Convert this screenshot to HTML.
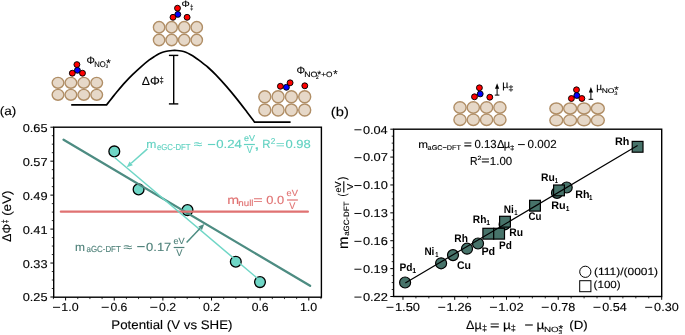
<!DOCTYPE html>
<html><head><meta charset="utf-8"><style>
html,body{margin:0;padding:0;background:#fff;}
svg{display:block;will-change:transform;}
text{font-family:"Liberation Sans", sans-serif;text-rendering:geometricPrecision;}
</style></head><body>
<svg width="685" height="335" viewBox="0 0 685 335">
<rect width="685" height="335" fill="#fff"/>
<ellipse cx="58.00" cy="82.80" rx="5.85" ry="5.40" fill="#e6d8c8" stroke="#b08e66" stroke-width="1.4"/>
<ellipse cx="70.90" cy="82.80" rx="5.85" ry="5.40" fill="#e6d8c8" stroke="#b08e66" stroke-width="1.4"/>
<ellipse cx="83.80" cy="82.80" rx="5.85" ry="5.40" fill="#e6d8c8" stroke="#b08e66" stroke-width="1.4"/>
<ellipse cx="96.70" cy="82.80" rx="5.85" ry="5.40" fill="#e6d8c8" stroke="#b08e66" stroke-width="1.4"/>
<ellipse cx="58.00" cy="94.80" rx="5.85" ry="5.40" fill="#e6d8c8" stroke="#b08e66" stroke-width="1.4"/>
<ellipse cx="70.90" cy="94.80" rx="5.85" ry="5.40" fill="#e6d8c8" stroke="#b08e66" stroke-width="1.4"/>
<ellipse cx="83.80" cy="94.80" rx="5.85" ry="5.40" fill="#e6d8c8" stroke="#b08e66" stroke-width="1.4"/>
<ellipse cx="96.70" cy="94.80" rx="5.85" ry="5.40" fill="#e6d8c8" stroke="#b08e66" stroke-width="1.4"/>
<circle cx="76.90" cy="64.60" r="2.95" fill="#ff0000" stroke="#000" stroke-width="0.95"/>
<circle cx="77.40" cy="70.30" r="2.95" fill="#0000ff" stroke="#000" stroke-width="0.95"/>
<circle cx="72.30" cy="73.20" r="2.95" fill="#ff0000" stroke="#000" stroke-width="0.95"/>
<circle cx="82.50" cy="73.20" r="2.95" fill="#ff0000" stroke="#000" stroke-width="0.95"/>
<ellipse cx="159.10" cy="27.30" rx="5.70" ry="5.75" fill="#e6d8c8" stroke="#b08e66" stroke-width="1.4"/>
<ellipse cx="171.65" cy="27.30" rx="5.70" ry="5.75" fill="#e6d8c8" stroke="#b08e66" stroke-width="1.4"/>
<ellipse cx="184.20" cy="27.30" rx="5.70" ry="5.75" fill="#e6d8c8" stroke="#b08e66" stroke-width="1.4"/>
<ellipse cx="196.75" cy="27.30" rx="5.70" ry="5.75" fill="#e6d8c8" stroke="#b08e66" stroke-width="1.4"/>
<ellipse cx="159.10" cy="40.00" rx="5.70" ry="5.75" fill="#e6d8c8" stroke="#b08e66" stroke-width="1.4"/>
<ellipse cx="171.65" cy="40.00" rx="5.70" ry="5.75" fill="#e6d8c8" stroke="#b08e66" stroke-width="1.4"/>
<ellipse cx="184.20" cy="40.00" rx="5.70" ry="5.75" fill="#e6d8c8" stroke="#b08e66" stroke-width="1.4"/>
<ellipse cx="196.75" cy="40.00" rx="5.70" ry="5.75" fill="#e6d8c8" stroke="#b08e66" stroke-width="1.4"/>
<circle cx="177.50" cy="8.20" r="2.95" fill="#ff0000" stroke="#000" stroke-width="0.95"/>
<circle cx="177.80" cy="14.40" r="2.95" fill="#0000ff" stroke="#000" stroke-width="0.95"/>
<circle cx="173.00" cy="17.30" r="2.95" fill="#ff0000" stroke="#000" stroke-width="0.95"/>
<circle cx="187.10" cy="17.30" r="2.95" fill="#ff0000" stroke="#000" stroke-width="0.95"/>
<ellipse cx="264.80" cy="96.70" rx="6.00" ry="6.00" fill="#e6d8c8" stroke="#b08e66" stroke-width="1.4"/>
<ellipse cx="278.10" cy="96.70" rx="6.00" ry="6.00" fill="#e6d8c8" stroke="#b08e66" stroke-width="1.4"/>
<ellipse cx="291.40" cy="96.70" rx="6.00" ry="6.00" fill="#e6d8c8" stroke="#b08e66" stroke-width="1.4"/>
<ellipse cx="304.70" cy="96.70" rx="6.00" ry="6.00" fill="#e6d8c8" stroke="#b08e66" stroke-width="1.4"/>
<ellipse cx="264.80" cy="110.00" rx="6.00" ry="6.00" fill="#e6d8c8" stroke="#b08e66" stroke-width="1.4"/>
<ellipse cx="278.10" cy="110.00" rx="6.00" ry="6.00" fill="#e6d8c8" stroke="#b08e66" stroke-width="1.4"/>
<ellipse cx="291.40" cy="110.00" rx="6.00" ry="6.00" fill="#e6d8c8" stroke="#b08e66" stroke-width="1.4"/>
<ellipse cx="304.70" cy="110.00" rx="6.00" ry="6.00" fill="#e6d8c8" stroke="#b08e66" stroke-width="1.4"/>
<circle cx="286.40" cy="87.30" r="2.95" fill="#0000ff" stroke="#000" stroke-width="0.95"/>
<circle cx="280.40" cy="86.30" r="2.95" fill="#ff0000" stroke="#000" stroke-width="0.95"/>
<circle cx="290.10" cy="82.80" r="2.95" fill="#ff0000" stroke="#000" stroke-width="0.95"/>
<circle cx="304.80" cy="85.80" r="2.95" fill="#ff0000" stroke="#000" stroke-width="0.95"/>
<path d="M71.2,104.8 L106.6,104.8 C107.55,103.60 110.67,99.65 112.3,97.6 C113.93,95.55 114.35,94.95 116.4,92.5 C118.45,90.05 121.87,85.92 124.6,82.9 C127.33,79.88 130.07,77.08 132.8,74.4 C135.53,71.72 138.25,69.22 141,66.8 C143.75,64.38 146.97,61.68 149.3,59.9 C151.63,58.12 153.38,57.12 155,56.1 C156.62,55.08 157.60,54.48 159,53.8 C160.40,53.12 161.92,52.47 163.4,52 C164.88,51.53 166.40,51.25 167.9,51 C169.40,50.75 170.90,50.58 172.4,50.5 C173.90,50.42 175.42,50.42 176.9,50.5 C178.38,50.58 179.82,50.70 181.3,51 C182.78,51.30 184.30,51.72 185.8,52.3 C187.30,52.88 188.80,53.68 190.3,54.5 C191.80,55.32 193.32,56.22 194.8,57.2 C196.28,58.18 197.72,59.28 199.2,60.4 C200.68,61.52 202.20,62.72 203.7,63.9 C205.20,65.08 206.17,65.67 208.2,67.5 C210.23,69.33 212.87,71.75 215.9,74.9 C218.93,78.05 222.92,82.40 226.4,86.4 C229.88,90.40 233.32,94.55 236.8,98.9 C240.28,103.25 244.33,108.62 247.3,112.5 C250.27,116.38 253.38,120.58 254.6,122.2 L290.6,122.2" fill="none" stroke="#000" stroke-width="1.7" stroke-linejoin="miter"/>
<line x1="173.70" y1="55.40" x2="173.70" y2="103.90" stroke="#000" stroke-width="1.4" stroke-linecap="butt" />
<line x1="168.90" y1="55.40" x2="178.30" y2="55.40" stroke="#000" stroke-width="1.4" stroke-linecap="butt" />
<line x1="168.90" y1="103.90" x2="178.30" y2="103.90" stroke="#000" stroke-width="1.4" stroke-linecap="butt" />
<text x="86.40" y="63.54" font-size="10.74" fill="#000" stroke="#000" stroke-width="0.12" font-weight="normal" textLength="8.40" lengthAdjust="spacingAndGlyphs" >Φ</text>
<text x="94.17" y="66.80" font-size="8.1" fill="#000" stroke="#000" stroke-width="0.12" font-weight="normal" textLength="11.50" lengthAdjust="spacingAndGlyphs" >NO</text>
<text x="106.22" y="67.24" font-size="11.39" fill="#000" stroke="#000" stroke-width="0.12" font-weight="normal" textLength="4.46" lengthAdjust="spacingAndGlyphs" >*</text>
<text x="105.85" y="67.85" font-size="5.08" fill="#000" stroke="#000" stroke-width="0.12" font-weight="normal" textLength="2.23" lengthAdjust="spacingAndGlyphs" >3</text>
<text x="181.51" y="7.45" font-size="9.17" fill="#000" stroke="#000" stroke-width="0.12" font-weight="normal" textLength="8.28" lengthAdjust="spacingAndGlyphs" >Φ</text>
<text x="189.89" y="10.29" font-size="7.44" fill="#000" stroke="#000" stroke-width="0.12" font-weight="normal" textLength="3.42" lengthAdjust="spacingAndGlyphs" >‡</text>
<text x="141.83" y="84.84" font-size="12.03" fill="#000" stroke="#000" stroke-width="0.12" font-weight="normal" textLength="18.07" lengthAdjust="spacingAndGlyphs" >ΔΦ</text>
<text x="159.60" y="82.58" font-size="9.07" fill="#000" stroke="#000" stroke-width="0.12" font-weight="normal" textLength="4.21" lengthAdjust="spacingAndGlyphs" >‡</text>
<text x="296.48" y="73.64" font-size="10.6" fill="#000" stroke="#000" stroke-width="0.12" font-weight="normal" textLength="8.63" lengthAdjust="spacingAndGlyphs" >Φ</text>
<text x="304.18" y="77.30" font-size="7.8" fill="#000" stroke="#000" stroke-width="0.12" font-weight="normal" textLength="13.14" lengthAdjust="spacingAndGlyphs" >NO</text>
<text x="317.14" y="77.65" font-size="10.54" fill="#000" stroke="#000" stroke-width="0.12" font-weight="normal" textLength="3.92" lengthAdjust="spacingAndGlyphs" >*</text>
<text x="315.84" y="78.50" font-size="5.16" fill="#000" stroke="#000" stroke-width="0.12" font-weight="normal" textLength="2.93" lengthAdjust="spacingAndGlyphs" >2</text>
<text x="321.29" y="77.30" font-size="7.8" fill="#000" stroke="#000" stroke-width="0.12" font-weight="normal" textLength="11.30" lengthAdjust="spacingAndGlyphs" >+O</text>
<text x="333.22" y="78.43" font-size="11.68" fill="#000" stroke="#000" stroke-width="0.12" font-weight="normal" textLength="4.36" lengthAdjust="spacingAndGlyphs" >*</text>
<text x="-0.24" y="115.20" font-size="12.2" fill="#000" stroke="#000" stroke-width="0.12" font-weight="normal" textLength="16.58" lengthAdjust="spacingAndGlyphs" >(a)</text>
<text x="330.89" y="115.60" font-size="12.6" fill="#000" stroke="#000" stroke-width="0.12" font-weight="normal" textLength="17.92" lengthAdjust="spacingAndGlyphs" >(b)</text>
<line x1="53.44" y1="297.20" x2="53.44" y2="299.10" stroke="#000" stroke-width="0.8" stroke-linecap="butt" />
<line x1="65.60" y1="297.20" x2="65.60" y2="300.50" stroke="#000" stroke-width="1.0" stroke-linecap="butt" />
<line x1="77.76" y1="297.20" x2="77.76" y2="299.10" stroke="#000" stroke-width="0.8" stroke-linecap="butt" />
<line x1="89.92" y1="297.20" x2="89.92" y2="299.10" stroke="#000" stroke-width="0.8" stroke-linecap="butt" />
<line x1="102.08" y1="297.20" x2="102.08" y2="299.10" stroke="#000" stroke-width="0.8" stroke-linecap="butt" />
<line x1="114.24" y1="297.20" x2="114.24" y2="300.50" stroke="#000" stroke-width="1.0" stroke-linecap="butt" />
<line x1="126.40" y1="297.20" x2="126.40" y2="299.10" stroke="#000" stroke-width="0.8" stroke-linecap="butt" />
<line x1="138.56" y1="297.20" x2="138.56" y2="299.10" stroke="#000" stroke-width="0.8" stroke-linecap="butt" />
<line x1="150.72" y1="297.20" x2="150.72" y2="299.10" stroke="#000" stroke-width="0.8" stroke-linecap="butt" />
<line x1="162.88" y1="297.20" x2="162.88" y2="300.50" stroke="#000" stroke-width="1.0" stroke-linecap="butt" />
<line x1="175.04" y1="297.20" x2="175.04" y2="299.10" stroke="#000" stroke-width="0.8" stroke-linecap="butt" />
<line x1="187.20" y1="297.20" x2="187.20" y2="299.10" stroke="#000" stroke-width="0.8" stroke-linecap="butt" />
<line x1="199.36" y1="297.20" x2="199.36" y2="299.10" stroke="#000" stroke-width="0.8" stroke-linecap="butt" />
<line x1="211.52" y1="297.20" x2="211.52" y2="300.50" stroke="#000" stroke-width="1.0" stroke-linecap="butt" />
<line x1="223.68" y1="297.20" x2="223.68" y2="299.10" stroke="#000" stroke-width="0.8" stroke-linecap="butt" />
<line x1="235.84" y1="297.20" x2="235.84" y2="299.10" stroke="#000" stroke-width="0.8" stroke-linecap="butt" />
<line x1="248.00" y1="297.20" x2="248.00" y2="299.10" stroke="#000" stroke-width="0.8" stroke-linecap="butt" />
<line x1="260.16" y1="297.20" x2="260.16" y2="300.50" stroke="#000" stroke-width="1.0" stroke-linecap="butt" />
<line x1="272.32" y1="297.20" x2="272.32" y2="299.10" stroke="#000" stroke-width="0.8" stroke-linecap="butt" />
<line x1="284.48" y1="297.20" x2="284.48" y2="299.10" stroke="#000" stroke-width="0.8" stroke-linecap="butt" />
<line x1="296.64" y1="297.20" x2="296.64" y2="299.10" stroke="#000" stroke-width="0.8" stroke-linecap="butt" />
<line x1="308.80" y1="297.20" x2="308.80" y2="300.50" stroke="#000" stroke-width="1.0" stroke-linecap="butt" />
<line x1="320.96" y1="297.20" x2="320.96" y2="299.10" stroke="#000" stroke-width="0.8" stroke-linecap="butt" />
<line x1="50.40" y1="127.20" x2="53.70" y2="127.20" stroke="#000" stroke-width="1.0" stroke-linecap="butt" />
<line x1="51.80" y1="135.69" x2="53.70" y2="135.69" stroke="#000" stroke-width="0.8" stroke-linecap="butt" />
<line x1="51.80" y1="144.18" x2="53.70" y2="144.18" stroke="#000" stroke-width="0.8" stroke-linecap="butt" />
<line x1="51.80" y1="152.67" x2="53.70" y2="152.67" stroke="#000" stroke-width="0.8" stroke-linecap="butt" />
<line x1="50.40" y1="161.16" x2="53.70" y2="161.16" stroke="#000" stroke-width="1.0" stroke-linecap="butt" />
<line x1="51.80" y1="169.65" x2="53.70" y2="169.65" stroke="#000" stroke-width="0.8" stroke-linecap="butt" />
<line x1="51.80" y1="178.14" x2="53.70" y2="178.14" stroke="#000" stroke-width="0.8" stroke-linecap="butt" />
<line x1="51.80" y1="186.63" x2="53.70" y2="186.63" stroke="#000" stroke-width="0.8" stroke-linecap="butt" />
<line x1="50.40" y1="195.12" x2="53.70" y2="195.12" stroke="#000" stroke-width="1.0" stroke-linecap="butt" />
<line x1="51.80" y1="203.61" x2="53.70" y2="203.61" stroke="#000" stroke-width="0.8" stroke-linecap="butt" />
<line x1="51.80" y1="212.10" x2="53.70" y2="212.10" stroke="#000" stroke-width="0.8" stroke-linecap="butt" />
<line x1="51.80" y1="220.59" x2="53.70" y2="220.59" stroke="#000" stroke-width="0.8" stroke-linecap="butt" />
<line x1="50.40" y1="229.08" x2="53.70" y2="229.08" stroke="#000" stroke-width="1.0" stroke-linecap="butt" />
<line x1="51.80" y1="237.57" x2="53.70" y2="237.57" stroke="#000" stroke-width="0.8" stroke-linecap="butt" />
<line x1="51.80" y1="246.06" x2="53.70" y2="246.06" stroke="#000" stroke-width="0.8" stroke-linecap="butt" />
<line x1="51.80" y1="254.55" x2="53.70" y2="254.55" stroke="#000" stroke-width="0.8" stroke-linecap="butt" />
<line x1="50.40" y1="263.04" x2="53.70" y2="263.04" stroke="#000" stroke-width="1.0" stroke-linecap="butt" />
<line x1="51.80" y1="271.53" x2="53.70" y2="271.53" stroke="#000" stroke-width="0.8" stroke-linecap="butt" />
<line x1="51.80" y1="280.02" x2="53.70" y2="280.02" stroke="#000" stroke-width="0.8" stroke-linecap="butt" />
<line x1="51.80" y1="288.51" x2="53.70" y2="288.51" stroke="#000" stroke-width="0.8" stroke-linecap="butt" />
<line x1="50.40" y1="297.00" x2="53.70" y2="297.00" stroke="#000" stroke-width="1.0" stroke-linecap="butt" />
<rect x="53.7" y="127.2" width="267.7" height="170.0" fill="none" stroke="#000" stroke-width="1.4"/>
<rect x="53.00" y="306.82" width="7.10" height="0.95" fill="#000"/>
<text x="61.35" y="310.99" font-size="11.58" fill="#000" stroke="#000" stroke-width="0.12" font-weight="normal" textLength="17.34" lengthAdjust="spacingAndGlyphs" >1.0</text>
<rect x="101.64" y="306.82" width="7.10" height="0.95" fill="#000"/>
<text x="110.46" y="310.99" font-size="11.58" fill="#000" stroke="#000" stroke-width="0.12" font-weight="normal" textLength="16.91" lengthAdjust="spacingAndGlyphs" >0.6</text>
<rect x="150.28" y="306.82" width="7.10" height="0.95" fill="#000"/>
<text x="159.10" y="310.99" font-size="11.58" fill="#000" stroke="#000" stroke-width="0.12" font-weight="normal" textLength="16.99" lengthAdjust="spacingAndGlyphs" >0.2</text>
<text x="203.09" y="310.99" font-size="11.58" fill="#000" stroke="#000" stroke-width="0.12" font-weight="normal" textLength="16.99" lengthAdjust="spacingAndGlyphs" >0.2</text>
<text x="251.73" y="310.99" font-size="11.58" fill="#000" stroke="#000" stroke-width="0.12" font-weight="normal" textLength="16.91" lengthAdjust="spacingAndGlyphs" >0.6</text>
<text x="299.90" y="310.99" font-size="11.58" fill="#000" stroke="#000" stroke-width="0.12" font-weight="normal" textLength="17.34" lengthAdjust="spacingAndGlyphs" >1.0</text>
<text x="22.70" y="131.69" font-size="11.44" fill="#000" stroke="#000" stroke-width="0.12" font-weight="normal" textLength="24.83" lengthAdjust="spacingAndGlyphs" >0.65</text>
<text x="22.70" y="165.65" font-size="11.44" fill="#000" stroke="#000" stroke-width="0.12" font-weight="normal" textLength="24.95" lengthAdjust="spacingAndGlyphs" >0.57</text>
<text x="22.70" y="199.61" font-size="11.44" fill="#000" stroke="#000" stroke-width="0.12" font-weight="normal" textLength="24.91" lengthAdjust="spacingAndGlyphs" >0.49</text>
<text x="22.70" y="233.57" font-size="11.44" fill="#000" stroke="#000" stroke-width="0.12" font-weight="normal" textLength="24.93" lengthAdjust="spacingAndGlyphs" >0.41</text>
<text x="22.70" y="267.53" font-size="11.44" fill="#000" stroke="#000" stroke-width="0.12" font-weight="normal" textLength="24.86" lengthAdjust="spacingAndGlyphs" >0.33</text>
<text x="22.70" y="301.49" font-size="11.44" fill="#000" stroke="#000" stroke-width="0.12" font-weight="normal" textLength="24.83" lengthAdjust="spacingAndGlyphs" >0.25</text>
<text x="111.31" y="328.70" font-size="12.5" fill="#000" stroke="#000" stroke-width="0.12" font-weight="normal" textLength="121.22" lengthAdjust="spacingAndGlyphs" >Potential (V vs SHE)</text>
<g transform="translate(11.0,241.3) rotate(-90)"><text x="-0.36" y="0.00" font-size="12.6" fill="#000" stroke="#000" stroke-width="0.12" font-weight="normal" textLength="17.64" lengthAdjust="spacingAndGlyphs" >ΔΦ</text><text x="17.91" y="-3.40" font-size="9.0" fill="#000" stroke="#000" stroke-width="0.12" font-weight="normal" textLength="4.08" lengthAdjust="spacingAndGlyphs" >‡</text><text x="25.47" y="-0.30" font-size="12.4" fill="#000" stroke="#000" stroke-width="0.12" font-weight="normal" textLength="25.26" lengthAdjust="spacingAndGlyphs" >(eV)</text></g>
<circle cx="114.30" cy="151.40" r="5.40" fill="#6fd6c6" stroke="#000" stroke-width="1.3"/>
<circle cx="138.60" cy="189.40" r="5.40" fill="#6fd6c6" stroke="#000" stroke-width="1.3"/>
<circle cx="187.50" cy="210.10" r="5.40" fill="#6fd6c6" stroke="#000" stroke-width="1.3"/>
<circle cx="235.80" cy="261.70" r="5.40" fill="#6fd6c6" stroke="#000" stroke-width="1.3"/>
<circle cx="260.00" cy="282.10" r="5.40" fill="#6fd6c6" stroke="#000" stroke-width="1.3"/>
<line x1="63.60" y1="139.70" x2="310.10" y2="285.80" stroke="#4d8c82" stroke-width="2.3" stroke-linecap="round" />
<line x1="60.80" y1="211.70" x2="307.90" y2="211.70" stroke="#e07272" stroke-width="2.2" stroke-linecap="round" />
<line x1="114.30" y1="157.30" x2="260.00" y2="280.50" stroke="#6fd6c6" stroke-width="1.5" stroke-linecap="butt" />
<line x1="147.40" y1="148.90" x2="131.18" y2="163.31" stroke="#6fd6c6" stroke-width="1.5" stroke-linecap="butt" />
<polygon points="126.70,167.30 129.52,161.45 132.85,165.18" fill="#6fd6c6"/>
<line x1="186.60" y1="242.40" x2="200.15" y2="228.24" stroke="#4d8c82" stroke-width="1.5" stroke-linecap="butt" />
<polygon points="204.30,223.90 201.96,229.96 198.35,226.51" fill="#4d8c82"/>
<text x="146.29" y="148.10" font-size="11.3" fill="#62d2c2" stroke="#62d2c2" stroke-width="0.12" font-weight="normal" textLength="10.11" lengthAdjust="spacingAndGlyphs" >m</text>
<text x="156.97" y="149.60" font-size="8.7" fill="#62d2c2" stroke="#62d2c2" stroke-width="0.12" font-weight="normal" textLength="33.61" lengthAdjust="spacingAndGlyphs" >eGC-DFT</text>
<text x="193.88" y="148.49" font-size="11.51" fill="#62d2c2" stroke="#62d2c2" stroke-width="0.12" font-weight="normal" textLength="8.44" lengthAdjust="spacingAndGlyphs" >≈</text>
<rect x="207.90" y="143.93" width="7.30" height="1.15" fill="#62d2c2"/>
<text x="216.28" y="148.30" font-size="11.8" fill="#62d2c2" stroke="#62d2c2" stroke-width="0.12" font-weight="normal" textLength="25.70" lengthAdjust="spacingAndGlyphs" >0.24</text>
<text x="243.92" y="141.22" font-size="8.6" fill="#62d2c2" stroke="#62d2c2" stroke-width="0.12" font-weight="normal" textLength="11.02" lengthAdjust="spacingAndGlyphs" >eV</text>
<line x1="243.90" y1="144.50" x2="254.90" y2="144.50" stroke="#62d2c2" stroke-width="1.2" stroke-linecap="butt" />
<text x="246.76" y="153.40" font-size="10.17" fill="#62d2c2" stroke="#62d2c2" stroke-width="0.12" font-weight="normal" textLength="5.88" lengthAdjust="spacingAndGlyphs" >V</text>
<text x="254.07" y="148.61" font-size="13.2" fill="#62d2c2" stroke="#62d2c2" stroke-width="0.12" font-weight="normal" textLength="5.66" lengthAdjust="spacingAndGlyphs" >,</text>
<text x="262.36" y="147.70" font-size="11.8" fill="#62d2c2" stroke="#62d2c2" stroke-width="0.12" font-weight="normal" textLength="8.27" lengthAdjust="spacingAndGlyphs" >R</text>
<text x="270.68" y="144.20" font-size="8.45" fill="#62d2c2" stroke="#62d2c2" stroke-width="0.12" font-weight="normal" textLength="4.64" lengthAdjust="spacingAndGlyphs" >2</text>
<text x="276.08" y="147.72" font-size="10.24" fill="#62d2c2" stroke="#62d2c2" stroke-width="0.12" font-weight="normal" textLength="8.65" lengthAdjust="spacingAndGlyphs" >=</text>
<text x="285.49" y="147.80" font-size="11.8" fill="#62d2c2" stroke="#62d2c2" stroke-width="0.12" font-weight="normal" textLength="25.27" lengthAdjust="spacingAndGlyphs" >0.98</text>
<text x="75.10" y="250.80" font-size="11.6" fill="#4e8079" stroke="#4e8079" stroke-width="0.12" font-weight="normal" textLength="9.99" lengthAdjust="spacingAndGlyphs" >m</text>
<text x="86.56" y="252.40" font-size="8.8" fill="#4e8079" stroke="#4e8079" stroke-width="0.12" font-weight="normal" textLength="34.22" lengthAdjust="spacingAndGlyphs" >aGC-DFT</text>
<text x="123.57" y="250.89" font-size="11.51" fill="#4e8079" stroke="#4e8079" stroke-width="0.12" font-weight="normal" textLength="8.66" lengthAdjust="spacingAndGlyphs" >≈</text>
<rect x="137.20" y="246.03" width="7.50" height="1.15" fill="#4e8079"/>
<text x="146.09" y="250.80" font-size="11.8" fill="#4e8079" stroke="#4e8079" stroke-width="0.12" font-weight="normal" textLength="25.26" lengthAdjust="spacingAndGlyphs" >0.17</text>
<text x="173.51" y="243.61" font-size="8.89" fill="#4e8079" stroke="#4e8079" stroke-width="0.12" font-weight="normal" textLength="11.13" lengthAdjust="spacingAndGlyphs" >eV</text>
<line x1="173.70" y1="247.50" x2="184.40" y2="247.50" stroke="#4e8079" stroke-width="1.2" stroke-linecap="butt" />
<text x="176.16" y="256.20" font-size="9.59" fill="#4e8079" stroke="#4e8079" stroke-width="0.12" font-weight="normal" textLength="6.18" lengthAdjust="spacingAndGlyphs" >V</text>
<text x="227.15" y="203.80" font-size="11.9" fill="#e07272" stroke="#e07272" stroke-width="0.12" font-weight="normal" textLength="11.89" lengthAdjust="spacingAndGlyphs" >m</text>
<text x="238.35" y="205.60" font-size="9.0" fill="#e07272" stroke="#e07272" stroke-width="0.12" font-weight="normal" textLength="15.20" lengthAdjust="spacingAndGlyphs" >null</text>
<text x="253.31" y="203.78" font-size="11.79" fill="#e07272" stroke="#e07272" stroke-width="0.12" font-weight="normal" textLength="9.50" lengthAdjust="spacingAndGlyphs" >=</text>
<text x="266.20" y="203.70" font-size="11.8" fill="#e07272" stroke="#e07272" stroke-width="0.12" font-weight="normal" textLength="17.91" lengthAdjust="spacingAndGlyphs" >0.0</text>
<text x="286.61" y="196.41" font-size="8.89" fill="#e07272" stroke="#e07272" stroke-width="0.12" font-weight="normal" textLength="11.33" lengthAdjust="spacingAndGlyphs" >eV</text>
<line x1="287.00" y1="200.00" x2="297.90" y2="200.00" stroke="#e07272" stroke-width="1.2" stroke-linecap="butt" />
<text x="289.16" y="208.90" font-size="9.59" fill="#e07272" stroke="#e07272" stroke-width="0.12" font-weight="normal" textLength="6.08" lengthAdjust="spacingAndGlyphs" >V</text>
<line x1="402.98" y1="296.50" x2="402.98" y2="299.80" stroke="#000" stroke-width="1.0" stroke-linecap="butt" />
<line x1="415.92" y1="296.50" x2="415.92" y2="298.40" stroke="#000" stroke-width="0.8" stroke-linecap="butt" />
<line x1="428.85" y1="296.50" x2="428.85" y2="298.40" stroke="#000" stroke-width="0.8" stroke-linecap="butt" />
<line x1="441.79" y1="296.50" x2="441.79" y2="298.40" stroke="#000" stroke-width="0.8" stroke-linecap="butt" />
<line x1="454.72" y1="296.50" x2="454.72" y2="299.80" stroke="#000" stroke-width="1.0" stroke-linecap="butt" />
<line x1="467.66" y1="296.50" x2="467.66" y2="298.40" stroke="#000" stroke-width="0.8" stroke-linecap="butt" />
<line x1="480.60" y1="296.50" x2="480.60" y2="298.40" stroke="#000" stroke-width="0.8" stroke-linecap="butt" />
<line x1="493.53" y1="296.50" x2="493.53" y2="298.40" stroke="#000" stroke-width="0.8" stroke-linecap="butt" />
<line x1="506.47" y1="296.50" x2="506.47" y2="299.80" stroke="#000" stroke-width="1.0" stroke-linecap="butt" />
<line x1="519.40" y1="296.50" x2="519.40" y2="298.40" stroke="#000" stroke-width="0.8" stroke-linecap="butt" />
<line x1="532.34" y1="296.50" x2="532.34" y2="298.40" stroke="#000" stroke-width="0.8" stroke-linecap="butt" />
<line x1="545.28" y1="296.50" x2="545.28" y2="298.40" stroke="#000" stroke-width="0.8" stroke-linecap="butt" />
<line x1="558.21" y1="296.50" x2="558.21" y2="299.80" stroke="#000" stroke-width="1.0" stroke-linecap="butt" />
<line x1="571.15" y1="296.50" x2="571.15" y2="298.40" stroke="#000" stroke-width="0.8" stroke-linecap="butt" />
<line x1="584.08" y1="296.50" x2="584.08" y2="298.40" stroke="#000" stroke-width="0.8" stroke-linecap="butt" />
<line x1="597.02" y1="296.50" x2="597.02" y2="298.40" stroke="#000" stroke-width="0.8" stroke-linecap="butt" />
<line x1="609.96" y1="296.50" x2="609.96" y2="299.80" stroke="#000" stroke-width="1.0" stroke-linecap="butt" />
<line x1="622.89" y1="296.50" x2="622.89" y2="298.40" stroke="#000" stroke-width="0.8" stroke-linecap="butt" />
<line x1="635.83" y1="296.50" x2="635.83" y2="298.40" stroke="#000" stroke-width="0.8" stroke-linecap="butt" />
<line x1="648.76" y1="296.50" x2="648.76" y2="298.40" stroke="#000" stroke-width="0.8" stroke-linecap="butt" />
<line x1="661.70" y1="296.50" x2="661.70" y2="299.80" stroke="#000" stroke-width="1.0" stroke-linecap="butt" />
<line x1="390.30" y1="129.20" x2="393.60" y2="129.20" stroke="#000" stroke-width="1.0" stroke-linecap="butt" />
<line x1="391.70" y1="136.17" x2="393.60" y2="136.17" stroke="#000" stroke-width="0.8" stroke-linecap="butt" />
<line x1="391.70" y1="143.14" x2="393.60" y2="143.14" stroke="#000" stroke-width="0.8" stroke-linecap="butt" />
<line x1="391.70" y1="150.11" x2="393.60" y2="150.11" stroke="#000" stroke-width="0.8" stroke-linecap="butt" />
<line x1="390.30" y1="157.08" x2="393.60" y2="157.08" stroke="#000" stroke-width="1.0" stroke-linecap="butt" />
<line x1="391.70" y1="164.05" x2="393.60" y2="164.05" stroke="#000" stroke-width="0.8" stroke-linecap="butt" />
<line x1="391.70" y1="171.02" x2="393.60" y2="171.02" stroke="#000" stroke-width="0.8" stroke-linecap="butt" />
<line x1="391.70" y1="177.99" x2="393.60" y2="177.99" stroke="#000" stroke-width="0.8" stroke-linecap="butt" />
<line x1="390.30" y1="184.96" x2="393.60" y2="184.96" stroke="#000" stroke-width="1.0" stroke-linecap="butt" />
<line x1="391.70" y1="191.93" x2="393.60" y2="191.93" stroke="#000" stroke-width="0.8" stroke-linecap="butt" />
<line x1="391.70" y1="198.90" x2="393.60" y2="198.90" stroke="#000" stroke-width="0.8" stroke-linecap="butt" />
<line x1="391.70" y1="205.88" x2="393.60" y2="205.88" stroke="#000" stroke-width="0.8" stroke-linecap="butt" />
<line x1="390.30" y1="212.85" x2="393.60" y2="212.85" stroke="#000" stroke-width="1.0" stroke-linecap="butt" />
<line x1="391.70" y1="219.82" x2="393.60" y2="219.82" stroke="#000" stroke-width="0.8" stroke-linecap="butt" />
<line x1="391.70" y1="226.79" x2="393.60" y2="226.79" stroke="#000" stroke-width="0.8" stroke-linecap="butt" />
<line x1="391.70" y1="233.76" x2="393.60" y2="233.76" stroke="#000" stroke-width="0.8" stroke-linecap="butt" />
<line x1="390.30" y1="240.73" x2="393.60" y2="240.73" stroke="#000" stroke-width="1.0" stroke-linecap="butt" />
<line x1="391.70" y1="247.70" x2="393.60" y2="247.70" stroke="#000" stroke-width="0.8" stroke-linecap="butt" />
<line x1="391.70" y1="254.67" x2="393.60" y2="254.67" stroke="#000" stroke-width="0.8" stroke-linecap="butt" />
<line x1="391.70" y1="261.64" x2="393.60" y2="261.64" stroke="#000" stroke-width="0.8" stroke-linecap="butt" />
<line x1="390.30" y1="268.61" x2="393.60" y2="268.61" stroke="#000" stroke-width="1.0" stroke-linecap="butt" />
<line x1="391.70" y1="275.58" x2="393.60" y2="275.58" stroke="#000" stroke-width="0.8" stroke-linecap="butt" />
<line x1="391.70" y1="282.55" x2="393.60" y2="282.55" stroke="#000" stroke-width="0.8" stroke-linecap="butt" />
<line x1="391.70" y1="289.52" x2="393.60" y2="289.52" stroke="#000" stroke-width="0.8" stroke-linecap="butt" />
<line x1="390.30" y1="296.49" x2="393.60" y2="296.49" stroke="#000" stroke-width="1.0" stroke-linecap="butt" />
<rect x="393.6" y="129.2" width="268.1" height="167.3" fill="none" stroke="#000" stroke-width="1.4"/>
<rect x="386.48" y="306.82" width="7.00" height="0.95" fill="#000"/>
<text x="394.90" y="310.99" font-size="11.58" fill="#000" stroke="#000" stroke-width="0.12" font-weight="normal" textLength="25.09" lengthAdjust="spacingAndGlyphs" >1.50</text>
<rect x="438.22" y="306.82" width="7.00" height="0.95" fill="#000"/>
<text x="446.64" y="310.99" font-size="11.58" fill="#000" stroke="#000" stroke-width="0.12" font-weight="normal" textLength="25.15" lengthAdjust="spacingAndGlyphs" >1.26</text>
<rect x="489.97" y="306.82" width="7.00" height="0.95" fill="#000"/>
<text x="498.38" y="310.99" font-size="11.58" fill="#000" stroke="#000" stroke-width="0.12" font-weight="normal" textLength="25.24" lengthAdjust="spacingAndGlyphs" >1.02</text>
<rect x="541.71" y="306.82" width="7.00" height="0.95" fill="#000"/>
<text x="550.62" y="310.99" font-size="11.58" fill="#000" stroke="#000" stroke-width="0.12" font-weight="normal" textLength="24.64" lengthAdjust="spacingAndGlyphs" >0.78</text>
<rect x="593.46" y="306.82" width="7.00" height="0.95" fill="#000"/>
<text x="602.37" y="310.99" font-size="11.58" fill="#000" stroke="#000" stroke-width="0.12" font-weight="normal" textLength="24.46" lengthAdjust="spacingAndGlyphs" >0.54</text>
<rect x="645.20" y="306.82" width="7.00" height="0.95" fill="#000"/>
<text x="654.11" y="310.99" font-size="11.58" fill="#000" stroke="#000" stroke-width="0.12" font-weight="normal" textLength="24.59" lengthAdjust="spacingAndGlyphs" >0.30</text>
<rect x="354.40" y="129.32" width="7.10" height="0.95" fill="#000"/>
<text x="362.90" y="133.59" font-size="11.44" fill="#000" stroke="#000" stroke-width="0.12" font-weight="normal" textLength="24.77" lengthAdjust="spacingAndGlyphs" >0.04</text>
<rect x="354.40" y="157.21" width="7.10" height="0.95" fill="#000"/>
<text x="362.90" y="161.47" font-size="11.44" fill="#000" stroke="#000" stroke-width="0.12" font-weight="normal" textLength="25.05" lengthAdjust="spacingAndGlyphs" >0.07</text>
<rect x="354.40" y="185.09" width="7.10" height="0.95" fill="#000"/>
<text x="362.90" y="189.35" font-size="11.44" fill="#000" stroke="#000" stroke-width="0.12" font-weight="normal" textLength="24.90" lengthAdjust="spacingAndGlyphs" >0.10</text>
<rect x="354.40" y="212.97" width="7.10" height="0.95" fill="#000"/>
<text x="362.90" y="217.23" font-size="11.44" fill="#000" stroke="#000" stroke-width="0.12" font-weight="normal" textLength="24.96" lengthAdjust="spacingAndGlyphs" >0.13</text>
<rect x="354.40" y="240.85" width="7.10" height="0.95" fill="#000"/>
<text x="362.90" y="245.12" font-size="11.44" fill="#000" stroke="#000" stroke-width="0.12" font-weight="normal" textLength="24.96" lengthAdjust="spacingAndGlyphs" >0.16</text>
<rect x="354.40" y="268.74" width="7.10" height="0.95" fill="#000"/>
<text x="362.90" y="273.00" font-size="11.44" fill="#000" stroke="#000" stroke-width="0.12" font-weight="normal" textLength="25.01" lengthAdjust="spacingAndGlyphs" >0.19</text>
<rect x="354.40" y="296.62" width="7.10" height="0.95" fill="#000"/>
<text x="362.90" y="300.88" font-size="11.44" fill="#000" stroke="#000" stroke-width="0.12" font-weight="normal" textLength="25.05" lengthAdjust="spacingAndGlyphs" >0.22</text>
<text x="466.02" y="328.70" font-size="12.4" fill="#000" stroke="#000" stroke-width="0.12" font-weight="normal" textLength="15.66" lengthAdjust="spacingAndGlyphs" >Δµ</text>
<text x="481.99" y="331.00" font-size="8.5" fill="#000" stroke="#000" stroke-width="0.12" font-weight="normal" textLength="5.14" lengthAdjust="spacingAndGlyphs" >‡</text>
<text x="490.11" y="328.78" font-size="11.17" fill="#000" stroke="#000" stroke-width="0.12" font-weight="normal" textLength="9.50" lengthAdjust="spacingAndGlyphs" >=</text>
<text x="503.07" y="328.70" font-size="12.4" fill="#000" stroke="#000" stroke-width="0.12" font-weight="normal" textLength="7.84" lengthAdjust="spacingAndGlyphs" >µ</text>
<text x="510.89" y="331.00" font-size="8.5" fill="#000" stroke="#000" stroke-width="0.12" font-weight="normal" textLength="5.14" lengthAdjust="spacingAndGlyphs" >‡</text>
<rect x="525.10" y="324.45" width="7.70" height="1.1" fill="#000"/>
<text x="536.47" y="328.70" font-size="12.4" fill="#000" stroke="#000" stroke-width="0.12" font-weight="normal" textLength="7.84" lengthAdjust="spacingAndGlyphs" >µ</text>
<text x="543.99" y="331.90" font-size="7.6" fill="#000" stroke="#000" stroke-width="0.12" font-weight="normal" textLength="14.78" lengthAdjust="spacingAndGlyphs" >NO</text>
<text x="558.41" y="331.70" font-size="10.0" fill="#000" stroke="#000" stroke-width="0.12" font-weight="normal" textLength="4.68" lengthAdjust="spacingAndGlyphs" >*</text>
<text x="558.55" y="334.40" font-size="5.6" fill="#000" stroke="#000" stroke-width="0.12" font-weight="normal" textLength="3.64" lengthAdjust="spacingAndGlyphs" >3</text>
<text x="569.28" y="329.30" font-size="12.0" fill="#000" stroke="#000" stroke-width="0.12" font-weight="normal" textLength="18.45" lengthAdjust="spacingAndGlyphs" >(D)</text>
<g transform="translate(347.5,248.8) rotate(-90)"><text x="-0.09" y="0.00" font-size="14.12" fill="#000" stroke="#000" stroke-width="0.12" font-weight="normal" textLength="12.36" lengthAdjust="spacingAndGlyphs" >m</text><text x="12.97" y="1.70" font-size="7.7" fill="#000" stroke="#000" stroke-width="0.12" font-weight="normal" textLength="34.12" lengthAdjust="spacingAndGlyphs" >aGC-DFT</text><text x="52.42" y="-1.03" font-size="11.27" fill="#000" stroke="#000" stroke-width="0.12" font-weight="normal" textLength="3.14" lengthAdjust="spacingAndGlyphs" >(</text><text x="56.32" y="-6.69" font-size="8.74" fill="#000" stroke="#000" stroke-width="0.12" font-weight="normal" textLength="10.92" lengthAdjust="spacingAndGlyphs" >eV</text><line x1="56.3" y1="-3.7" x2="67.6" y2="-3.7" stroke="#000" stroke-width="1.1"/><text x="59.16" y="5.10" font-size="8.58" fill="#000" stroke="#000" stroke-width="0.12" font-weight="normal" textLength="5.98" lengthAdjust="spacingAndGlyphs" >V</text><text x="68.74" y="-1.03" font-size="11.27" fill="#000" stroke="#000" stroke-width="0.12" font-weight="normal" textLength="3.27" lengthAdjust="spacingAndGlyphs" >)</text></g>
<text x="418.32" y="147.80" font-size="10.59" fill="#000" stroke="#000" stroke-width="0.12" font-weight="normal" textLength="9.75" lengthAdjust="spacingAndGlyphs" >m</text>
<text x="427.59" y="149.70" font-size="7.0" fill="#000" stroke="#000" stroke-width="0.12" font-weight="normal" textLength="33.38" lengthAdjust="spacingAndGlyphs" >aGC−DFT</text>
<text x="463.72" y="148.48" font-size="11.17" fill="#000" stroke="#000" stroke-width="0.12" font-weight="normal" textLength="8.17" lengthAdjust="spacingAndGlyphs" >=</text>
<text x="474.56" y="147.90" font-size="11.6" fill="#000" stroke="#000" stroke-width="0.12" font-weight="normal" textLength="22.14" lengthAdjust="spacingAndGlyphs" >0.13</text>
<text x="497.06" y="147.90" font-size="11.6" fill="#000" stroke="#000" stroke-width="0.12" font-weight="normal" textLength="7.58" lengthAdjust="spacingAndGlyphs" >Δ</text>
<text x="503.84" y="147.90" font-size="11.6" fill="#000" stroke="#000" stroke-width="0.12" font-weight="normal" textLength="6.42" lengthAdjust="spacingAndGlyphs" >µ</text>
<text x="510.07" y="149.95" font-size="6.55" fill="#000" stroke="#000" stroke-width="0.12" font-weight="normal" textLength="4.48" lengthAdjust="spacingAndGlyphs" >‡</text>
<rect x="518.00" y="144.12" width="6.80" height="0.95" fill="#000"/>
<text x="527.55" y="147.80" font-size="11.6" fill="#000" stroke="#000" stroke-width="0.12" font-weight="normal" textLength="29.04" lengthAdjust="spacingAndGlyphs" >0.002</text>
<text x="469.94" y="164.90" font-size="11.6" fill="#000" stroke="#000" stroke-width="0.12" font-weight="normal" textLength="7.54" lengthAdjust="spacingAndGlyphs" >R</text>
<text x="477.55" y="160.20" font-size="6.02" fill="#000" stroke="#000" stroke-width="0.12" font-weight="normal" textLength="3.91" lengthAdjust="spacingAndGlyphs" >2</text>
<text x="481.31" y="164.32" font-size="10.86" fill="#000" stroke="#000" stroke-width="0.12" font-weight="normal" textLength="8.29" lengthAdjust="spacingAndGlyphs" >=</text>
<text x="489.83" y="164.90" font-size="11.6" fill="#000" stroke="#000" stroke-width="0.12" font-weight="normal" textLength="22.32" lengthAdjust="spacingAndGlyphs" >1.00</text>
<circle cx="585.30" cy="271.80" r="5.60" fill="#fff" stroke="#000" stroke-width="1.0"/>
<rect x="579.7" y="280.7" width="11.2" height="11.0" fill="#fff" stroke="#000" stroke-width="1.0"/>
<text x="593.98" y="274.60" font-size="10.4" fill="#000" stroke="#000" stroke-width="0.12" font-weight="normal" textLength="64.15" lengthAdjust="spacingAndGlyphs" >(111)/(0001)</text>
<text x="593.58" y="288.30" font-size="10.4" fill="#000" stroke="#000" stroke-width="0.12" font-weight="normal" textLength="27.14" lengthAdjust="spacingAndGlyphs" >(100)</text>
<circle cx="405.10" cy="282.50" r="5.50" fill="#47736a" stroke="#000" stroke-width="1.2"/>
<circle cx="441.10" cy="263.30" r="5.50" fill="#47736a" stroke="#000" stroke-width="1.2"/>
<circle cx="453.00" cy="255.10" r="5.50" fill="#47736a" stroke="#000" stroke-width="1.2"/>
<circle cx="467.00" cy="248.70" r="5.50" fill="#47736a" stroke="#000" stroke-width="1.2"/>
<circle cx="478.00" cy="243.50" r="5.50" fill="#47736a" stroke="#000" stroke-width="1.2"/>
<circle cx="504.60" cy="224.40" r="5.50" fill="#47736a" stroke="#000" stroke-width="1.2"/>
<circle cx="557.00" cy="192.90" r="5.50" fill="#47736a" stroke="#000" stroke-width="1.2"/>
<circle cx="566.70" cy="187.50" r="5.50" fill="#47736a" stroke="#000" stroke-width="1.2"/>
<rect x="482.90" y="228.30" width="10.8" height="10.8" fill="#47736a" stroke="#000" stroke-width="1.2"/>
<rect x="493.70" y="228.30" width="10.8" height="10.8" fill="#47736a" stroke="#000" stroke-width="1.2"/>
<rect x="499.60" y="216.30" width="10.8" height="10.8" fill="#47736a" stroke="#000" stroke-width="1.2"/>
<rect x="529.60" y="200.30" width="10.8" height="10.8" fill="#47736a" stroke="#000" stroke-width="1.2"/>
<rect x="553.60" y="185.00" width="10.8" height="10.8" fill="#47736a" stroke="#000" stroke-width="1.2"/>
<rect x="632.20" y="141.40" width="10.8" height="10.8" fill="#47736a" stroke="#000" stroke-width="1.2"/>
<line x1="405.30" y1="283.00" x2="637.60" y2="145.60" stroke="#000" stroke-width="1.2" stroke-linecap="butt" />
<text x="399.52" y="271.40" font-size="11.0" fill="#000" font-weight="bold" textLength="12.95" lengthAdjust="spacingAndGlyphs" >Pd</text>
<text x="412.15" y="273.30" font-size="7.12" fill="#000" font-weight="bold" textLength="3.94" lengthAdjust="spacingAndGlyphs" >1</text>
<text x="424.43" y="255.40" font-size="11.0" fill="#000" font-weight="bold" textLength="9.97" lengthAdjust="spacingAndGlyphs" >Ni</text>
<text x="435.13" y="257.30" font-size="7.12" fill="#000" font-weight="bold" textLength="3.23" lengthAdjust="spacingAndGlyphs" >1</text>
<text x="456.97" y="268.70" font-size="11.0" fill="#000" font-weight="bold" textLength="14.03" lengthAdjust="spacingAndGlyphs" >Cu</text>
<text x="454.32" y="242.00" font-size="11.0" fill="#000" font-weight="bold" textLength="13.62" lengthAdjust="spacingAndGlyphs" >Rh</text>
<text x="481.38" y="255.10" font-size="11.0" fill="#000" font-weight="bold" textLength="13.73" lengthAdjust="spacingAndGlyphs" >Pd</text>
<text x="472.82" y="223.40" font-size="11.0" fill="#000" font-weight="bold" textLength="13.62" lengthAdjust="spacingAndGlyphs" >Rh</text>
<text x="486.37" y="225.30" font-size="7.12" fill="#000" font-weight="bold" textLength="3.82" lengthAdjust="spacingAndGlyphs" >1</text>
<text x="503.63" y="213.20" font-size="11.0" fill="#000" font-weight="bold" textLength="10.09" lengthAdjust="spacingAndGlyphs" >Ni</text>
<text x="514.22" y="215.10" font-size="7.12" fill="#000" font-weight="bold" textLength="3.35" lengthAdjust="spacingAndGlyphs" >1</text>
<text x="509.31" y="236.20" font-size="11.0" fill="#000" font-weight="bold" textLength="13.77" lengthAdjust="spacingAndGlyphs" >Ru</text>
<text x="499.03" y="249.40" font-size="11.0" fill="#000" font-weight="bold" textLength="12.83" lengthAdjust="spacingAndGlyphs" >Pd</text>
<text x="528.60" y="220.00" font-size="11.0" fill="#000" font-weight="bold" textLength="12.94" lengthAdjust="spacingAndGlyphs" >Cu</text>
<text x="541.01" y="181.20" font-size="11.0" fill="#000" font-weight="bold" textLength="13.77" lengthAdjust="spacingAndGlyphs" >Ru</text>
<text x="554.83" y="183.10" font-size="7.12" fill="#000" font-weight="bold" textLength="3.23" lengthAdjust="spacingAndGlyphs" >1</text>
<text x="575.18" y="198.10" font-size="11.0" fill="#000" font-weight="bold" textLength="14.28" lengthAdjust="spacingAndGlyphs" >Rh</text>
<text x="589.01" y="200.00" font-size="7.12" fill="#000" font-weight="bold" textLength="3.47" lengthAdjust="spacingAndGlyphs" >1</text>
<text x="551.28" y="209.30" font-size="11.0" fill="#000" font-weight="bold" textLength="14.44" lengthAdjust="spacingAndGlyphs" >Ru</text>
<text x="565.78" y="211.20" font-size="7.12" fill="#000" font-weight="bold" textLength="3.71" lengthAdjust="spacingAndGlyphs" >1</text>
<text x="615.08" y="144.90" font-size="11.0" fill="#000" font-weight="bold" textLength="14.39" lengthAdjust="spacingAndGlyphs" >Rh</text>
<ellipse cx="460.00" cy="107.50" rx="6.10" ry="5.70" fill="#e6d8c8" stroke="#b08e66" stroke-width="1.4"/>
<ellipse cx="473.30" cy="107.50" rx="6.10" ry="5.70" fill="#e6d8c8" stroke="#b08e66" stroke-width="1.4"/>
<ellipse cx="486.60" cy="107.50" rx="6.10" ry="5.70" fill="#e6d8c8" stroke="#b08e66" stroke-width="1.4"/>
<ellipse cx="499.90" cy="107.50" rx="6.10" ry="5.70" fill="#e6d8c8" stroke="#b08e66" stroke-width="1.4"/>
<ellipse cx="460.00" cy="119.80" rx="6.10" ry="5.70" fill="#e6d8c8" stroke="#b08e66" stroke-width="1.4"/>
<ellipse cx="473.30" cy="119.80" rx="6.10" ry="5.70" fill="#e6d8c8" stroke="#b08e66" stroke-width="1.4"/>
<ellipse cx="486.60" cy="119.80" rx="6.10" ry="5.70" fill="#e6d8c8" stroke="#b08e66" stroke-width="1.4"/>
<ellipse cx="499.90" cy="119.80" rx="6.10" ry="5.70" fill="#e6d8c8" stroke="#b08e66" stroke-width="1.4"/>
<circle cx="479.40" cy="87.80" r="2.95" fill="#ff0000" stroke="#000" stroke-width="0.95"/>
<circle cx="480.20" cy="93.90" r="2.95" fill="#0000ff" stroke="#000" stroke-width="0.95"/>
<circle cx="474.50" cy="96.80" r="2.95" fill="#ff0000" stroke="#000" stroke-width="0.95"/>
<circle cx="489.80" cy="97.20" r="2.95" fill="#ff0000" stroke="#000" stroke-width="0.95"/>
<ellipse cx="556.30" cy="108.50" rx="6.45" ry="5.50" fill="#e6d8c8" stroke="#b08e66" stroke-width="1.4"/>
<ellipse cx="570.15" cy="108.50" rx="6.45" ry="5.50" fill="#e6d8c8" stroke="#b08e66" stroke-width="1.4"/>
<ellipse cx="584.00" cy="108.50" rx="6.45" ry="5.50" fill="#e6d8c8" stroke="#b08e66" stroke-width="1.4"/>
<ellipse cx="597.85" cy="108.50" rx="6.45" ry="5.50" fill="#e6d8c8" stroke="#b08e66" stroke-width="1.4"/>
<ellipse cx="556.30" cy="120.30" rx="6.45" ry="5.50" fill="#e6d8c8" stroke="#b08e66" stroke-width="1.4"/>
<ellipse cx="570.15" cy="120.30" rx="6.45" ry="5.50" fill="#e6d8c8" stroke="#b08e66" stroke-width="1.4"/>
<ellipse cx="584.00" cy="120.30" rx="6.45" ry="5.50" fill="#e6d8c8" stroke="#b08e66" stroke-width="1.4"/>
<ellipse cx="597.85" cy="120.30" rx="6.45" ry="5.50" fill="#e6d8c8" stroke="#b08e66" stroke-width="1.4"/>
<circle cx="576.50" cy="89.80" r="2.95" fill="#ff0000" stroke="#000" stroke-width="0.95"/>
<circle cx="576.80" cy="95.50" r="2.95" fill="#0000ff" stroke="#000" stroke-width="0.95"/>
<circle cx="571.40" cy="98.50" r="2.95" fill="#ff0000" stroke="#000" stroke-width="0.95"/>
<circle cx="581.90" cy="98.50" r="2.95" fill="#ff0000" stroke="#000" stroke-width="0.95"/>
<line x1="497.10" y1="95.10" x2="497.10" y2="88.20" stroke="#000" stroke-width="1.0" stroke-linecap="butt" />
<polygon points="497.10,83.20 495.00,88.80 499.20,88.80" fill="#000"/>
<line x1="494.80" y1="95.10" x2="499.40" y2="95.10" stroke="#000" stroke-width="1.0" stroke-linecap="butt" />
<line x1="590.90" y1="99.30" x2="590.90" y2="92.00" stroke="#000" stroke-width="1.0" stroke-linecap="butt" />
<polygon points="590.90,87.00 588.80,92.60 593.00,92.60" fill="#000"/>
<line x1="588.60" y1="99.30" x2="593.20" y2="99.30" stroke="#000" stroke-width="1.0" stroke-linecap="butt" />
<text x="502.17" y="88.40" font-size="10.5" fill="#000" stroke="#000" stroke-width="0.12" font-weight="normal" textLength="6.18" lengthAdjust="spacingAndGlyphs" >µ</text>
<text x="508.26" y="91.05" font-size="7.94" fill="#000" stroke="#000" stroke-width="0.12" font-weight="normal" textLength="5.40" lengthAdjust="spacingAndGlyphs" >‡</text>
<text x="596.31" y="90.20" font-size="10.0" fill="#000" stroke="#000" stroke-width="0.12" font-weight="normal" textLength="5.82" lengthAdjust="spacingAndGlyphs" >µ</text>
<text x="601.71" y="93.00" font-size="6.8" fill="#000" stroke="#000" stroke-width="0.12" font-weight="normal" textLength="12.70" lengthAdjust="spacingAndGlyphs" >NO</text>
<text x="614.32" y="93.00" font-size="9.5" fill="#000" stroke="#000" stroke-width="0.12" font-weight="normal" textLength="4.36" lengthAdjust="spacingAndGlyphs" >*</text>
<text x="614.28" y="95.00" font-size="5.0" fill="#000" stroke="#000" stroke-width="0.12" font-weight="normal" textLength="3.17" lengthAdjust="spacingAndGlyphs" >3</text>
</svg></body></html>
